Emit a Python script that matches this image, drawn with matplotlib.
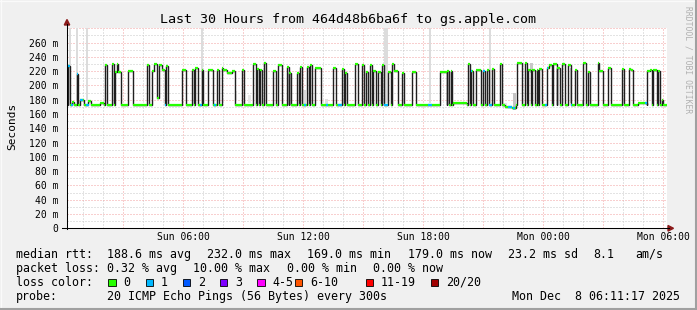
import numpy as np
import matplotlib
matplotlib.use("Agg")
import matplotlib.pyplot as plt
from matplotlib.patches import Polygon, Rectangle
from matplotlib.transforms import Affine2D

# ---- data (hours since Sun 00:00, ms) ----
base_rtt = 173

hi_t0 = [0.24, 0.70, 2.10, 2.47, 2.60, 2.70, 2.77, 3.27, 4.20, 4.47, 4.54, 4.72, 4.80, 4.95,
         5.15, 5.97, 6.44, 6.60, 6.94, 7.24, 7.69, 7.94, 8.02, 8.20, 8.45, 8.97, 9.52, 9.70,
         9.84, 10.07, 10.52, 10.77, 11.20, 11.32, 11.70, 11.85, 12.19, 12.35, 12.60, 12.77,
         13.52, 13.97, 14.10, 14.60, 14.94, 15.14, 15.35, 15.52, 15.77, 15.97, 16.27, 16.47,
         16.57, 16.97, 17.47, 18.85, 19.22, 19.40, 20.24, 20.40, 20.65, 21.02, 21.19, 21.44,
         21.85, 22.69, 23.10, 23.27, 23.47, 23.69, 23.82, 24.19, 24.30, 24.52, 24.72, 24.97,
         25.27, 25.60, 26.02, 26.24, 26.74, 26.82, 27.27, 27.97, 28.30, 28.40, 29.22, 29.35,
         29.52, 29.74, 29.94]
hi_t1 = [0.37, 0.77, 2.22, 2.55, 2.70, 2.77, 2.89, 3.52, 4.30, 4.54, 4.72, 4.80, 4.95, 5.10,
         5.24, 6.15, 6.55, 6.74, 7.02, 7.52, 7.80, 8.02, 8.20, 8.45, 8.60, 9.07, 9.65, 9.80,
         9.95, 10.14, 10.64, 10.97, 11.30, 11.40, 11.82, 11.97, 12.30, 12.47, 12.77, 12.89,
         13.64, 14.07, 14.22, 14.74, 15.05, 15.24, 15.47, 15.64, 15.89, 16.05, 16.39, 16.57,
         16.74, 17.05, 17.64, 19.19, 19.30, 19.47, 20.35, 20.52, 20.90, 21.10, 21.30, 21.55,
         21.97, 22.94, 23.22, 23.40, 23.60, 23.77, 23.94, 24.30, 24.47, 24.69, 24.85, 25.10,
         25.39, 25.72, 26.14, 26.35, 26.82, 27.02, 27.39, 28.05, 28.40, 28.52, 29.35, 29.47,
         29.69, 29.85, 30.02]
hi_v = [227, 216, 228, 230, 219, 230, 219, 220, 228, 220, 230, 182, 229, 221,
        227, 222, 222, 224, 222, 222, 222, 224, 221, 218, 220, 222, 230, 223,
        222, 231, 220, 228, 226, 217, 217, 226, 226, 228, 224, 225,
        224, 223, 217, 230, 228, 219, 228, 220, 219, 228, 219, 230,
        220, 218, 219, 219, 220, 220, 230, 220, 222, 220, 222, 223,
        230, 231, 232, 222, 222, 222, 223, 224, 228, 230, 224, 230,
        228, 222, 232, 219, 232, 220, 224, 223, 223, 221, 220, 222,
        222, 220, 180]

bump_t0 = [0.45, 0.85, 1.25, 1.85, 19.50, 19.80, 22.10, 22.45, 28.75]
bump_t1 = [0.55, 1.05, 1.40, 2.05, 19.80, 20.20, 22.45, 22.65, 29.20]
bump_v = [177, 179, 178, 175, 176, 175, 170, 169, 175]

blue_t0 = [0.265, 0.40, 0.685, 0.85, 1.15, 5.10, 6.85, 7.565, 12.05, 13.15, 13.765, 16.05,
           18.27, 20.40, 21.02, 21.315, 22.25, 22.515, 24.10, 24.19, 25.39, 29.10]
blue_t1 = [0.35, 0.485, 0.765, 0.975, 1.30, 5.15, 6.94, 7.65, 12.15, 13.235, 13.935, 16.265,
           18.465, 20.46, 21.10, 21.44, 22.435, 22.60, 24.185, 24.25, 25.47, 29.215]

smoke_t0 = [0.315, 0.65, 1.15, 6.90, 16.07, 18.30, 21.30, 8.60, 9.265, 12.015, 13.10,
            22.015, 22.515, 23.35, 25.35, 25.935]
smoke_t1 = [0.385, 0.735, 1.235, 6.985, 16.235, 18.385, 21.385, 8.715, 9.385, 12.15, 13.265,
            22.185, 22.635, 23.485, 25.465, 26.015]
smoke_lo = [180, 180, 178, 175, 175, 175, 175, 178, 175, 173, 174, 170, 165, 218, 176, 173]
smoke_hi = [300, 300, 300, 300, 300, 300, 300, 192, 186, 193, 181, 176, 190, 231, 225, 180]
smoke_c = ['#dcdcdc'] * 7 + ['#e4e4e4', '#e8e8e8', '#dadada', '#e0e0e0', '#e4e4e4',
                            '#c4c4c4', '#c8c8c8', '#c4c4c4', '#b8b8b8']

xtick_pos = [6, 12, 18, 24, 30]
xtick_lab = ['Sun 06:00', 'Sun 12:00', 'Sun 18:00', 'Mon 00:00', 'Mon 06:00']
ytick_pos = list(range(0, 261, 20))
ytick_lab = ['0'] + ['%d m' % v for v in ytick_pos[1:]]

loss_labels = ['0', '1', '2', '3', '4-5', '6-10', '11-19', '20/20']
loss_colors = ['#26ff00', '#00b8ff', '#0059ff', '#7e00ff', '#ff00ff', '#ff5500', '#ff0000', '#a10000']

# ---- figure ----
W, H = 697, 310
mono = 'DejaVu Sans Mono'
fig = plt.figure(figsize=(W / 100, H / 100), dpi=100, facecolor='#f0f0f0')
px = Affine2D().scale(1 / W, -1 / H).translate(0, 1) + fig.transFigure

ax_l, ax_r, ax_b, ax_t = 66.7, 666.7, 228.3, 28.3
ax = fig.add_axes([ax_l / W, (H - ax_b) / H, (ax_r - ax_l) / W, (ax_b - ax_t) / H])
ax.set_facecolor('white')
t_lo, t_hi = (ax_l - 63) / 20, (ax_r - 63) / 20
ax.set_xlim(t_lo, t_hi)
ax.set_ylim(0, 280)
for s in ax.spines.values():
    s.set_visible(False)

# grid
dots = (0, (1, 2))
for h in range(1, 31):
    if h % 3:
        ax.axvline(h, color='#c8c8c8', lw=0.72, ls=dots, zorder=0)
    else:
        ax.axvline(h, color='#f2a0a0', lw=0.72, ls=dots, zorder=0)
for v in range(10, 281, 10):
    if v % 20:
        ax.axhline(v, color='#c8c8c8', lw=0.72, ls=dots, zorder=0)
    else:
        ax.axhline(v, color='#f2a0a0', lw=0.72, ls=dots, zorder=0)

# smoke
ax.bar(smoke_t0, np.array(smoke_hi) - np.array(smoke_lo), bottom=smoke_lo,
       width=np.array(smoke_t1) - np.array(smoke_t0), align='edge', color=smoke_c, lw=0, zorder=1)

# median step line
edges = np.unique(np.concatenate([[t_lo, t_hi], hi_t0, hi_t1, bump_t0, bump_t1]))
mids = (edges[:-1] + edges[1:]) / 2
vals = np.full(len(mids), float(base_rtt))
for a, b, v in zip(bump_t0, bump_t1, bump_v):
    vals[(mids > a) & (mids < b)] = v
for a, b, v in zip(hi_t0, hi_t1, hi_v):
    vals[(mids > a) & (mids < b)] = v
ax.stairs(vals, edges, baseline=None, color='#202020', lw=1.0, zorder=2)
ax.hlines(vals, edges[:-1], edges[1:], colors=loss_colors[0], lw=1.6, zorder=3)
bl = [vals[np.searchsorted(edges, (a + b) / 2) - 1] for a, b in zip(blue_t0, blue_t1)]
ax.hlines(bl, blue_t0, blue_t1, colors=loss_colors[1], lw=1.6, zorder=4)

# ticks
ax.set_xticks(xtick_pos, xtick_lab)
ax.set_yticks(ytick_pos, ytick_lab)
ax.tick_params(length=0, labelsize=7, colors='black')
ax.tick_params(axis='x', pad=3)
ax.tick_params(axis='y', pad=6)
for lab in ax.get_xticklabels() + ax.get_yticklabels():
    lab.set_family(mono)

# axes lines + arrows
fig.add_artist(plt.Line2D([67, 67], [ax_b + 1, 24], color='black', lw=0.75, transform=px))
fig.add_artist(plt.Line2D([62, 669], [ax_b, ax_b], color='black', lw=0.75, transform=px))
fig.add_artist(Polygon([[64.3, 25], [69.7, 25], [67, 19.5]], closed=True, color='#8b1a1a', transform=px))
fig.add_artist(Polygon([[668, 225.5], [668, 231.1], [673.5, 228.3]], closed=True, color='#8b1a1a', transform=px))

# texts
fig.text(348, 19, 'Last 30 Hours from 464d48b6ba6f to gs.apple.com', transform=px,
         family=mono, size=9.6, ha='center', va='center')
fig.text(12, 126, 'Seconds', transform=px, family=mono, size=8, rotation=90,
         ha='center', va='center')
fig.text(688, 60, 'RRDTOOL / TOBI OETIKER', transform=px, family=mono, size=5.8,
         rotation=270, ha='center', va='center', color='#b0b0b0')

lg = dict(transform=px, family=mono, size=8.4, va='center')
row1 = [(16, 'median rtt:'), (107.3, '188.6 ms avg'), (207.3, '232.0 ms max'),
        (307.3, '169.0 ms min'), (407.7, '179.0 ms now'), (507.7, '23.2 ms sd'),
        (593.3, '8.1'), (635.7, 'am/s')]
row2 = [(16, 'packet loss:'), (107.3, '0.32 % avg'), (193.3, '10.00 % max'),
        (286.7, '0.00 % min'), (372.7, '0.00 % now')]
row4 = [(16, 'probe:'), (107.3, '20 ICMP Echo Pings (56 Bytes) every 300s'),
        (512, 'Mon Dec  8 06:11:17 2025')]
for y, row in [(254.3, row1), (268.3, row2), (296.3, row4)]:
    for x, s in row:
        fig.text(x, y, s, **lg)
fig.text(16, 282.3, 'loss color:', **lg)
box_x = [108.3, 145.7, 182.7, 220, 257.3, 295, 366, 430.7]
for bx, lab, c in zip(box_x, loss_labels, loss_colors):
    fig.add_artist(Rectangle((bx, 278.5), 7.3, 7.3, facecolor=c, edgecolor='black', lw=0.6, transform=px))
    fig.text(bx + 15, 282.3, lab, **lg)

# frame
fig.add_artist(plt.Line2D([0, W], [0.5, 0.5], color='#fafafa', lw=1, transform=px))
fig.add_artist(plt.Line2D([0.5, 0.5], [0, H], color='#fafafa', lw=1, transform=px))
fig.add_artist(plt.Line2D([0, W], [H - 1, H - 1], color='#a0a0a0', lw=1.5, transform=px))
fig.add_artist(plt.Line2D([W - 1, W - 1], [0, H], color='#a0a0a0', lw=1.5, transform=px))

fig.savefig('out.png', dpi=100, facecolor=fig.get_facecolor())
